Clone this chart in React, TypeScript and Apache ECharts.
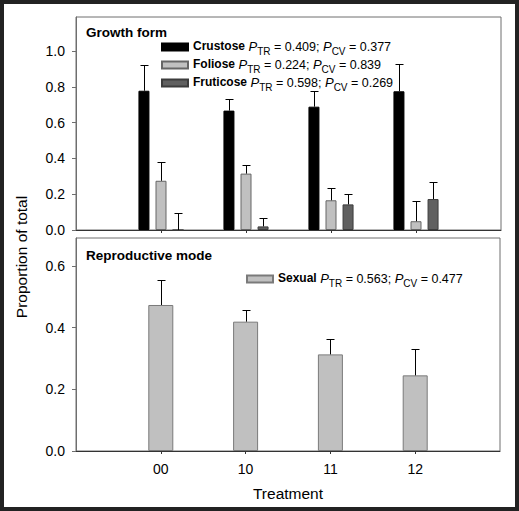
import React, { useEffect, useRef } from 'react';
import * as echarts from 'echarts';

const treatments = ['00', '10', '11', '12'];
const crustose = [0.778, 0.667, 0.689, 0.775];
const crustoseSE = [0.144, 0.067, 0.089, 0.151];
const foliose = [0.275, 0.315, 0.166, 0.049];
const folioseSE = [0.107, 0.046, 0.067, 0.113];
const fruticose = [0.0, 0.02, 0.143, 0.173];
const fruticoseSE = [0.095, 0.045, 0.06, 0.097];
const sexual = [0.473, 0.419, 0.313, 0.245];
const sexualSE = [0.08, 0.038, 0.05, 0.085];

const growthNames = ['Crustose', 'Foliose', 'Fruticose'];
const growthPTR = [0.409, 0.224, 0.598];
const growthPCV = [0.377, 0.839, 0.269];
const reproNames = ['Sexual'];
const reproPTR = [0.563];
const reproPCV = [0.477];

const topTicks = [0, 0.2, 0.4, 0.6, 0.8, 1.0];
const bottomTicks = [0, 0.2, 0.4, 0.6];

const FONT = '"Liberation Sans", Arial, Helvetica, sans-serif';

const categories = ['', ...treatments, ''];
const pad = (arr: number[]) => [null, ...arr, null];

function errData(mean: number[], se: number[]) {
  return mean.map((m, i) => [i + 1, m, m + se[i]]);
}

function errSeries(mean: number[], se: number[], offset: number, xi: number) {
  return {
    type: 'custom',
    xAxisIndex: xi,
    yAxisIndex: xi,
    z: 5,
    silent: true,
    data: errData(mean, se),
    renderItem: (params: any, api: any) => {
      const base = api.coord([api.value(0), api.value(1)]);
      const top = api.coord([api.value(0), api.value(2)]);
      const cx = Math.round(base[0] + offset) + 0.5;
      const ty = Math.round(top[1]) + 0.5;
      return {
        type: 'group',
        children: [
          { type: 'line', shape: { x1: cx, y1: base[1], x2: cx, y2: ty }, style: { stroke: '#000', lineWidth: 1 } },
          { type: 'line', shape: { x1: cx - 4, y1: ty, x2: cx + 4, y2: ty }, style: { stroke: '#000', lineWidth: 1 } },
        ],
      };
    },
  };
}

const rich = {
  b: { fontFamily: FONT, fontWeight: 'bold', fontSize: 12, color: '#000', lineHeight: 14, verticalAlign: 'top' },
  i: { fontFamily: FONT, fontStyle: 'italic', fontSize: 13, color: '#000', lineHeight: 14, verticalAlign: 'top' },
  n: { fontFamily: FONT, fontSize: 12.5, color: '#000', lineHeight: 14, verticalAlign: 'top' },
  s: { fontFamily: FONT, fontSize: 10, color: '#000', lineHeight: 10, padding: [6, 0, 0, 0], verticalAlign: 'top' },
};

function legendLabel(name: string, ptr: number, pcv: number) {
  return `{b|${name}}{n| }{i|P}{s|TR}{n| = ${ptr.toFixed(3)}; }{i|P}{s|CV}{n| = ${pcv.toFixed(3)}}`;
}

export default function App() {
  const ref = useRef<HTMLDivElement>(null);
  useEffect(() => {
    if (!ref.current) return;
    const chart = echarts.init(ref.current, null, { renderer: 'svg' });
    const axisCommon = {
      axisLine: { show: true, lineStyle: { color: '#333', width: 1 } },
    };
    const option: any = {
      animation: false,
      backgroundColor: 'transparent',
      textStyle: { fontFamily: FONT },
      title: [
        { text: 'Growth form', left: 86, top: 25, padding: 0, textStyle: { fontFamily: FONT, fontSize: 13.5, fontWeight: 'bold', color: '#000' } },
        { text: 'Reproductive mode', left: 86, top: 248, padding: 0, textStyle: { fontFamily: FONT, fontSize: 13.5, fontWeight: 'bold', color: '#000' } },
      ],
      legend: [
        {
          data: growthNames,
          orient: 'vertical',
          left: 161,
          top: 40,
          padding: 0,
          itemWidth: 26,
          itemHeight: 7,
          itemGap: 2,
          icon: 'rect',
          selectedMode: false,
          formatter: (name: string) => {
            const i = growthNames.indexOf(name);
            return legendLabel(name, growthPTR[i], growthPCV[i]);
          },
          textStyle: { rich },
        },
        {
          data: reproNames,
          orient: 'vertical',
          left: 246,
          top: 272,
          padding: 0,
          itemWidth: 26,
          itemHeight: 7,
          icon: 'rect',
          selectedMode: false,
          formatter: (name: string) => {
            const i = reproNames.indexOf(name);
            return legendLabel(name, reproPTR[i], reproPCV[i]);
          },
          textStyle: { rich },
        },
      ],
      grid: [
        { left: 76, top: 17, width: 425, height: 213, show: true, borderColor: '#6e6e6e', borderWidth: 1, backgroundColor: 'transparent' },
        { left: 76, top: 238, width: 424, height: 213, show: true, borderColor: '#6e6e6e', borderWidth: 1, backgroundColor: 'transparent' },
      ],
      xAxis: [
        {
          type: 'category',
          gridIndex: 0,
          data: categories,
          boundaryGap: false,
          ...axisCommon,
          axisTick: { show: true, length: 3, interval: (i: number, v: string) => v !== '', lineStyle: { color: '#333' } },
          axisLabel: { show: false },
          splitLine: { show: false },
        },
        {
          type: 'category',
          gridIndex: 1,
          data: categories,
          boundaryGap: false,
          ...axisCommon,
          axisTick: { show: true, length: 3, interval: (i: number, v: string) => v !== '', lineStyle: { color: '#333' } },
          axisLabel: { show: true, margin: 11, fontSize: 14, color: '#000', fontFamily: FONT, interval: 0 },
          splitLine: { show: false },
          name: 'Treatment',
          nameLocation: 'middle',
          nameGap: 34,
          nameTextStyle: { fontSize: 15.5, color: '#000', fontFamily: FONT },
        },
      ],
      yAxis: [
        {
          type: 'value',
          gridIndex: 0,
          min: 0,
          max: 1.19,
          interval: 0.2,
          axisLine: { show: true, lineStyle: { color: '#6e6e6e' } },
          axisTick: { show: true, length: 4, customValues: topTicks, lineStyle: { color: '#6e6e6e' } },
          axisLabel: { show: true, margin: 11, fontSize: 14, color: '#000', fontFamily: FONT, customValues: topTicks, formatter: (v: number) => v.toFixed(1) },
          splitLine: { show: false },
        },
        {
          type: 'value',
          gridIndex: 1,
          min: 0,
          max: 0.69,
          interval: 0.2,
          axisLine: { show: true, lineStyle: { color: '#6e6e6e' } },
          axisTick: { show: true, length: 4, customValues: bottomTicks, lineStyle: { color: '#6e6e6e' } },
          axisLabel: { show: true, margin: 11, fontSize: 14, color: '#000', fontFamily: FONT, customValues: bottomTicks, formatter: (v: number) => v.toFixed(1) },
          splitLine: { show: false },
        },
      ],
      graphic: [
        {
          type: 'text',
          x: 21,
          y: 257,
          rotation: Math.PI / 2,
          style: { text: 'Proportion of total', fontSize: 15.5, fontFamily: FONT, fill: '#000', align: 'center', verticalAlign: 'middle' },
        },
      ],
      series: [
        { name: 'Crustose', type: 'bar', xAxisIndex: 0, yAxisIndex: 0, data: pad(crustose), barWidth: 11, barGap: '55%', itemStyle: { color: '#000', borderColor: '#000', borderWidth: 1 } },
        { name: 'Foliose', type: 'bar', xAxisIndex: 0, yAxisIndex: 0, data: pad(foliose), barWidth: 11, barGap: '55%', itemStyle: { color: '#c0c0c0', borderColor: '#666', borderWidth: 1 } },
        { name: 'Fruticose', type: 'bar', xAxisIndex: 0, yAxisIndex: 0, data: pad(fruticose), barWidth: 11, barGap: '55%', itemStyle: { color: '#606060', borderColor: '#3c3c3c', borderWidth: 1 } },
        { name: 'Sexual', type: 'bar', xAxisIndex: 1, yAxisIndex: 1, data: pad(sexual), barWidth: 25, itemStyle: { color: '#c0c0c0', borderColor: '#7a7a7a', borderWidth: 1 } },
        errSeries(crustose, crustoseSE, -17, 0),
        errSeries(foliose, folioseSE, 0, 0),
        errSeries(fruticose, fruticoseSE, 17, 0),
        errSeries(sexual, sexualSE, 0, 1),
      ],
    };
    chart.setOption(option);
    return () => chart.dispose();
  }, []);
  return (
    <div style={{ position: 'absolute', left: 0, top: 0, width: 519, height: 511, background: '#222' }}>
      <div style={{ position: 'absolute', left: 4, top: 4, width: 511, height: 503, background: '#fff' }} />
      <div ref={ref} style={{ position: 'absolute', left: 0, top: 0, width: 519, height: 511 }} />
    </div>
  );
}
